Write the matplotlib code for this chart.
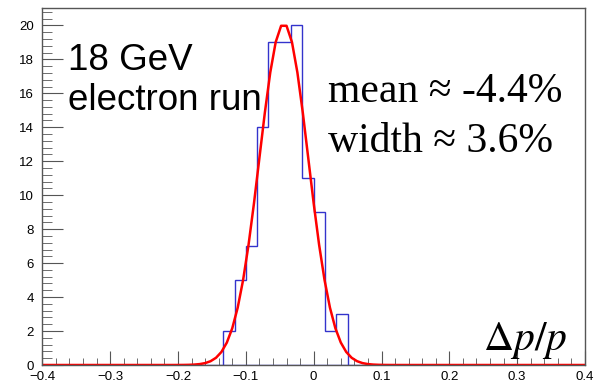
import numpy as np
import matplotlib.pyplot as plt
from matplotlib.ticker import MultipleLocator

# histogram of dp/p, 48 bins over [-0.4, 0.4]; only the filled bins listed
first_edge = -0.4 + 16 * (0.8 / 48)
BinWidth = 0.8 / 48
Counts = [2, 5, 7, 14, 19, 19, 20, 11, 9, 2, 3]

# gaussian fit parameters
FitAmp = 20.1
FitMean = -0.044
FitSigma = 0.036

edges = first_edge + BinWidth * np.arange(len(Counts) + 1)

plt.rcParams['font.family'] = ['Liberation Sans', 'DejaVu Sans']
plt.rcParams['mathtext.fontset'] = 'stix'

fig = plt.figure(figsize=(6.02, 3.82), dpi=100)
ax = fig.add_axes([0.0703, 0.0445, 0.9015, 0.9335])

ax.plot([-0.4, 0.4], [0, 0], color='#3333cc', lw=1)
ax.stairs(Counts, edges, baseline=0, color='#3333cc', lw=1)

xfit = np.linspace(-0.4, 0.4, 101)
yfit = FitAmp * np.exp(-0.5 * ((xfit - FitMean) / FitSigma) ** 2)
ax.plot(xfit, yfit, color='red', lw=1.8)

ax.set_xlim(-0.4, 0.4)
ax.set_ylim(0, 21)

ax.xaxis.set_major_locator(MultipleLocator(0.1))
ax.xaxis.set_minor_locator(MultipleLocator(0.02))
ax.yaxis.set_major_locator(MultipleLocator(2))
ax.yaxis.set_minor_locator(MultipleLocator(0.4))
ax.tick_params(which='both', direction='in', colors='#555555', labelcolor='black',
               labelsize=9.5, top=False, right=False)
ax.tick_params(axis='x', which='major', length=10, pad=4)
ax.tick_params(axis='x', which='minor', length=5)
ax.tick_params(axis='y', which='major', length=15, pad=6)
ax.tick_params(axis='y', which='minor', length=7)
ax.set_xticks([-0.4, -0.3, -0.2, -0.1, 0, 0.1, 0.2, 0.3, 0.4])
ax.set_xticklabels(['\u22120.4', '\u22120.3', '\u22120.2', '\u22120.1', '0', '0.1', '0.2', '0.3', '0.4'])
for s in ax.spines.values():
    s.set_color('#555555')
    s.set_linewidth(1)

fig.text(68 / 602, 1 - 70 / 382, '18 GeV', fontsize=26.5, va='baseline', ha='left')
fig.text(68 / 602, 1 - 110 / 382, 'electron run', fontsize=26.5, va='baseline', ha='left')
fig.text(328 / 602, 1 - 102 / 382, 'mean \u2248 -4.4%', fontsize=30, va='baseline',
         ha='left', family=['Liberation Serif', 'DejaVu Serif'])
fig.text(328 / 602, 1 - 152 / 382, 'width \u2248 3.6%', fontsize=30, va='baseline',
         ha='left', family=['Liberation Serif', 'DejaVu Serif'])
fig.text(567 / 602, 1 - 350 / 382, r'$\Delta p/p$', fontsize=30, va='baseline', ha='right')

fig.savefig('out.png', dpi=100)
